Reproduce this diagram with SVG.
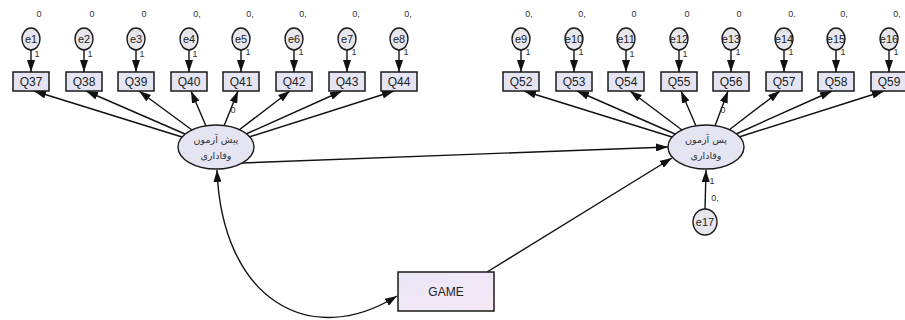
<svg xmlns="http://www.w3.org/2000/svg" width="905" height="320" viewBox="0 0 905 320">
  <style>
    .box { fill: #e4e4f2; stroke: #1a1a1a; stroke-width: 1.5; }
    .err { fill: #e6e6ec; stroke: #1a1a1a; stroke-width: 1.4; }
    .lat { fill: #e4e4f2; stroke: #1a1a1a; stroke-width: 1.4; }
    .lbl { font-family: "Liberation Sans", Arial, sans-serif; font-size: 12px; fill: #222; text-anchor: middle; }
    .elbl { font-family: "Liberation Sans", Arial, sans-serif; font-size: 11px; fill: #222; text-anchor: middle; }
    .sm { font-family: "Liberation Sans", Arial, sans-serif; font-size: 9px; fill: #333; text-anchor: middle; }
    .fa { font-family: "DejaVu Sans", "Noto Sans", sans-serif; font-size: 9.5px; fill: #333; text-anchor: middle; }
    .path { stroke: #111; stroke-width: 1.4; fill: none; marker-end: url(#ah); }
  </style>
  <defs>
    <marker id="ah" viewBox="0 0 12 8" refX="12" refY="4" markerWidth="12" markerHeight="8" markerUnits="userSpaceOnUse" orient="auto">
      <path d="M0,0 L12,4 L0,8 z" fill="#111"/>
    </marker>
    <marker id="ah2" viewBox="0 0 12 8" refX="12" refY="4" markerWidth="12" markerHeight="8" markerUnits="userSpaceOnUse" orient="auto-start-reverse">
      <path d="M0,0 L12,4 L0,8 z" fill="#111"/>
    </marker>
    <linearGradient id="gameFill" x1="0" y1="0" x2="1" y2="1">
      <stop offset="0" stop-color="#e8e6f6"/>
      <stop offset="1" stop-color="#f6e8f6"/>
    </linearGradient>
  </defs>

  <rect width="905" height="320" fill="#ffffff"/>

  <!-- connectors -->
  <g id="connectors">
    <!-- error terms to indicators -->
    <line class="path" x1="31" y1="50" x2="31" y2="72"/>
    <line class="path" x1="84" y1="50" x2="84" y2="72"/>
    <line class="path" x1="136" y1="50" x2="136" y2="72"/>
    <line class="path" x1="189" y1="50" x2="189" y2="72"/>
    <line class="path" x1="241" y1="50" x2="241" y2="72"/>
    <line class="path" x1="294" y1="50" x2="294" y2="72"/>
    <line class="path" x1="347" y1="50" x2="347" y2="72"/>
    <line class="path" x1="399" y1="50" x2="399" y2="72"/>
    <line class="path" x1="521" y1="50" x2="521" y2="72"/>
    <line class="path" x1="574" y1="50" x2="574" y2="72"/>
    <line class="path" x1="626" y1="50" x2="626" y2="72"/>
    <line class="path" x1="679" y1="50" x2="679" y2="72"/>
    <line class="path" x1="731" y1="50" x2="731" y2="72"/>
    <line class="path" x1="784" y1="50" x2="784" y2="72"/>
    <line class="path" x1="836" y1="50" x2="836" y2="72"/>
    <line class="path" x1="889" y1="50" x2="889" y2="72"/>

    <!-- pre-test latent to indicators -->
    <line class="path" x1="182" y1="137" x2="34" y2="91"/>
    <line class="path" x1="185" y1="134" x2="86" y2="91"/>
    <line class="path" x1="192" y1="130" x2="139" y2="91"/>
    <line class="path" x1="206" y1="126" x2="191" y2="91"/>
    <line class="path" x1="224" y1="126" x2="238" y2="91"/>
    <line class="path" x1="239" y1="130" x2="290" y2="91"/>
    <line class="path" x1="246" y1="134" x2="342" y2="91"/>
    <line class="path" x1="249" y1="137" x2="394" y2="91"/>

    <!-- post-test latent to indicators -->
    <line class="path" x1="672" y1="137" x2="524" y2="91"/>
    <line class="path" x1="675" y1="134" x2="577" y2="91"/>
    <line class="path" x1="682" y1="130" x2="630" y2="91"/>
    <line class="path" x1="696" y1="126" x2="681" y2="91"/>
    <line class="path" x1="715" y1="126" x2="728" y2="91"/>
    <line class="path" x1="729" y1="130" x2="780" y2="91"/>
    <line class="path" x1="736" y1="134" x2="832" y2="91"/>
    <line class="path" x1="739" y1="137" x2="884" y2="91"/>

    <!-- structural paths -->
    <line class="path" x1="241" y1="163" x2="668" y2="147"/>
    <line class="path" x1="487" y1="272" x2="672" y2="158"/>
    <line class="path" x1="705" y1="210" x2="706" y2="170"/>

    <!-- covariance -->
    <path d="M217,170 C222,300 310,350 397,296" fill="none" stroke="#111" stroke-width="1.4" marker-start="url(#ah2)" marker-end="url(#ah2)"/>

    <!-- path labels -->
    <text class="sm" x="233" y="113">0</text>
    <text class="sm" x="723" y="113">0</text>
    <text class="sm" x="715" y="201">0,</text>
    <text class="sm" x="712" y="184" font-size="7">1</text>
  </g>

  <!-- error terms -->
  <g id="e1"><ellipse class="err" cx="31" cy="39" rx="9" ry="11"/><text class="elbl" x="31" y="43">e1</text><text class="sm" x="39" y="17">0</text><text class="sm" x="37" y="57" font-size="7">1</text></g>
  <g id="e2"><ellipse class="err" cx="84" cy="39" rx="9" ry="11"/><text class="elbl" x="84" y="43">e2</text><text class="sm" x="92" y="17">0</text><text class="sm" x="90" y="57" font-size="7">1</text></g>
  <g id="e3"><ellipse class="err" cx="136" cy="39" rx="9" ry="11"/><text class="elbl" x="136" y="43">e3</text><text class="sm" x="144" y="17">0</text><text class="sm" x="142" y="57" font-size="7">1</text></g>
  <g id="e4"><ellipse class="err" cx="189" cy="39" rx="9" ry="11"/><text class="elbl" x="189" y="43">e4</text><text class="sm" x="197" y="17">0,</text><text class="sm" x="195" y="57" font-size="7">1</text></g>
  <g id="e5"><ellipse class="err" cx="241" cy="39" rx="9" ry="11"/><text class="elbl" x="241" y="43">e5</text><text class="sm" x="250" y="17">0,</text><text class="sm" x="248" y="55">1</text></g>
  <g id="e6"><ellipse class="err" cx="294" cy="39" rx="9" ry="11"/><text class="elbl" x="294" y="43">e6</text><text class="sm" x="303" y="17">0,</text><text class="sm" x="301" y="55">1</text></g>
  <g id="e7"><ellipse class="err" cx="347" cy="39" rx="9" ry="11"/><text class="elbl" x="347" y="43">e7</text><text class="sm" x="356" y="17">0,</text><text class="sm" x="354" y="55">1</text></g>
  <g id="e8"><ellipse class="err" cx="399" cy="39" rx="9" ry="11"/><text class="elbl" x="399" y="43">e8</text><text class="sm" x="408" y="17">0,</text><text class="sm" x="406" y="55">1</text></g>

  <g id="e9"><ellipse class="err" cx="521" cy="39" rx="9" ry="11"/><text class="elbl" x="521" y="43">e9</text><text class="sm" x="529" y="17">0,</text><text class="sm" x="528" y="55">1</text></g>
  <g id="e10"><ellipse class="err" cx="574" cy="39" rx="9" ry="11"/><text class="elbl" x="574" y="43" font-size="10">e10</text><text class="sm" x="582" y="17">0,</text><text class="sm" x="581" y="55">1</text></g>
  <g id="e11"><ellipse class="err" cx="626" cy="39" rx="9" ry="11"/><text class="elbl" x="626" y="43" font-size="10">e11</text><text class="sm" x="634" y="17">0</text><text class="sm" x="632" y="57" font-size="7">1</text></g>
  <g id="e12"><ellipse class="err" cx="679" cy="39" rx="9" ry="11"/><text class="elbl" x="679" y="43" font-size="10">e12</text><text class="sm" x="687" y="17">0</text><text class="sm" x="685" y="57" font-size="7">1</text></g>
  <g id="e13"><ellipse class="err" cx="731" cy="39" rx="9" ry="11"/><text class="elbl" x="731" y="43" font-size="10">e13</text><text class="sm" x="739" y="17">0</text><text class="sm" x="738" y="55">1</text></g>
  <g id="e14"><ellipse class="err" cx="784" cy="39" rx="9" ry="11"/><text class="elbl" x="784" y="43" font-size="10">e14</text><text class="sm" x="792" y="17">0.</text><text class="sm" x="791" y="55">1</text></g>
  <g id="e15"><ellipse class="err" cx="836" cy="39" rx="9" ry="11"/><text class="elbl" x="836" y="43" font-size="10">e15</text><text class="sm" x="844" y="17">0,</text><text class="sm" x="843" y="55">1</text></g>
  <g id="e16"><ellipse class="err" cx="889" cy="39" rx="9" ry="11"/><text class="elbl" x="889" y="43" font-size="10">e16</text><text class="sm" x="897" y="17">0,</text><text class="sm" x="896" y="55">1</text></g>

  <g id="e17"><ellipse class="err" cx="705" cy="222" rx="12" ry="13"/><text class="elbl" x="705" y="226">e17</text></g>

  <!-- observed indicators -->
  <g id="Q37"><rect class="box" x="13" y="72" width="36" height="19"/><text class="lbl" x="31" y="86">Q37</text></g>
  <g id="Q38"><rect class="box" x="66" y="72" width="36" height="19"/><text class="lbl" x="84" y="86">Q38</text></g>
  <g id="Q39"><rect class="box" x="118" y="72" width="36" height="19"/><text class="lbl" x="136" y="86">Q39</text></g>
  <g id="Q40"><rect class="box" x="171" y="72" width="36" height="19"/><text class="lbl" x="189" y="86">Q40</text></g>
  <g id="Q41"><rect class="box" x="223" y="72" width="36" height="19"/><text class="lbl" x="241" y="86">Q41</text></g>
  <g id="Q42"><rect class="box" x="276" y="72" width="36" height="19"/><text class="lbl" x="294" y="86">Q42</text></g>
  <g id="Q43"><rect class="box" x="329" y="72" width="36" height="19"/><text class="lbl" x="347" y="86">Q43</text></g>
  <g id="Q44"><rect class="box" x="381" y="72" width="36" height="19"/><text class="lbl" x="399" y="86">Q44</text></g>

  <g id="Q52"><rect class="box" x="503" y="72" width="36" height="19"/><text class="lbl" x="521" y="86">Q52</text></g>
  <g id="Q53"><rect class="box" x="556" y="72" width="36" height="19"/><text class="lbl" x="574" y="86">Q53</text></g>
  <g id="Q54"><rect class="box" x="608" y="72" width="36" height="19"/><text class="lbl" x="626" y="86">Q54</text></g>
  <g id="Q55"><rect class="box" x="661" y="72" width="36" height="19"/><text class="lbl" x="679" y="86">Q55</text></g>
  <g id="Q56"><rect class="box" x="713" y="72" width="36" height="19"/><text class="lbl" x="731" y="86">Q56</text></g>
  <g id="Q57"><rect class="box" x="766" y="72" width="36" height="19"/><text class="lbl" x="784" y="86">Q57</text></g>
  <g id="Q58"><rect class="box" x="818" y="72" width="36" height="19"/><text class="lbl" x="836" y="86">Q58</text></g>
  <g id="Q59"><rect class="box" x="871" y="72" width="36" height="19"/><text class="lbl" x="889" y="86">Q59</text></g>

  <!-- latent variables -->
  <g id="pretest">
    <ellipse class="lat" cx="216" cy="147" rx="38" ry="22"/>
    <text class="fa" x="216" y="143">پیش آزمون</text>
    <text class="fa" x="216" y="159">وفاداری</text>
  </g>
  <g id="posttest">
    <ellipse class="lat" cx="706" cy="147" rx="38" ry="22"/>
    <text class="fa" x="706" y="143">پس آزمون</text>
    <text class="fa" x="706" y="159">وفاداری</text>
  </g>

  <!-- exogenous observed -->
  <g id="GAME">
    <rect x="398" y="272" width="96" height="39" fill="url(#gameFill)" stroke="#1a1a1a" stroke-width="1.5"/>
    <text class="lbl" x="446" y="296" font-size="11">GAME</text>
  </g>
</svg>
